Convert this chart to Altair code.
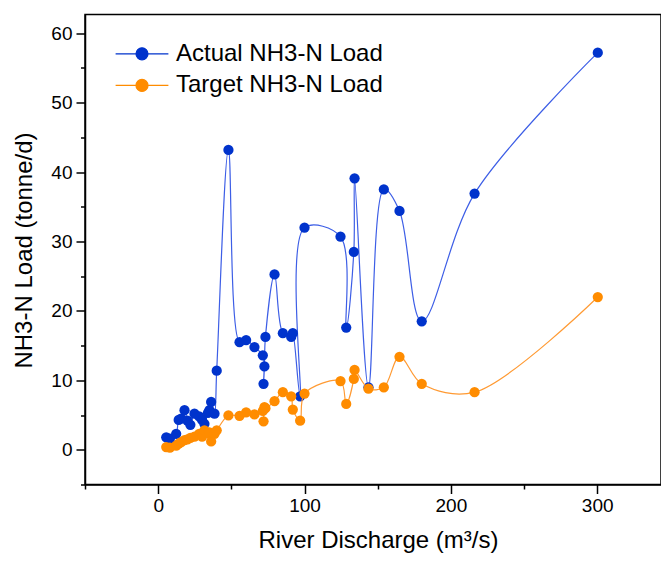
import altair as alt
import pandas as pd

# River discharge (m3/s), shared by both series
discharge = [5.5, 8, 12.3, 14, 15.7, 18, 20, 22, 24.8, 28, 30, 31.6, 34, 35, 36.2, 38.5, 40,
             48, 55.6, 60.1, 65.8, 71.5, 72, 72.6, 73.3, 79.5, 85.2, 90.9, 92, 97, 100,
             124.6, 128.5, 133.7, 134.2, 143.7, 154.2, 164.9, 180.1, 216.2, 300.4]
# Actual NH3-N load (tonne/d)
actual = [1.8, 1.6, 2.3, 4.3, 4.5, 5.7, 4.2, 3.6, 5.2, 4.8, 4.3, 3.75, 5.3, 5.7, 6.9, 5.2, 11.4,
          43.2, 15.5, 15.8, 14.8, 13.6, 9.5, 12.0, 16.25, 25.25, 16.8, 16.25, 16.8, 7.7, 32.0,
          30.7, 17.6, 28.5, 39.1, 9.0, 37.5, 34.4, 18.5, 36.9, 57.2]
# Target NH3-N load (tonne/d)
target = [0.4, 0.3, 0.6, 0.9, 1.1, 1.4, 1.5, 1.7, 1.9, 2.3, 1.9, 2.8, 2.4, 2.5, 1.2, 2.3, 2.8,
          4.95, 4.9, 5.4, 5.1, 5.6, 4.1, 6.15, 6.0, 7.0, 8.3, 7.7, 5.8, 4.2, 8.1,
          9.9, 6.6, 10.2, 11.5, 8.8, 9.0, 13.4, 9.5, 8.3, 22.0]

series_names = ["Actual NH3-N Load", "Target NH3-N Load"]
dot_colors = ["#0033cc", "#ff8c00"]
line_colors = ["#3d5ee6", "#ff9a33"]

x_ticks = [0, 100, 200, 300]
y_ticks = [0, 10, 20, 30, 40, 50, 60]
minor_x = [-50, 50, 150, 250]
minor_y = [-5, 5, 15, 25, 35, 45, 55]
x_domain = [-50, 343.6]
y_domain = [-5, 62.7]

rows = []
for q, a, t in zip(discharge, actual, target):
    rows.append({"q": q, "load": a, "series": series_names[0]})
    rows.append({"q": q, "load": t, "series": series_names[1]})
df = pd.DataFrame(rows)

FONT = "Liberation Sans"
xscale = alt.Scale(domain=x_domain, nice=False, zero=False)
yscale = alt.Scale(domain=y_domain, nice=False, zero=False)

xaxis = alt.Axis(values=x_ticks, tickSize=9, tickWidth=1.5, tickColor="black",
                 domainColor="black", domainWidth=1.5, labelFont=FONT, labelFontSize=19,
                 labelColor="black", labelPadding=3, grid=False,
                 title="River Discharge (m³/s)", titleFont=FONT, titleFontSize=24,
                 titleFontWeight="normal", titleColor="black", titleBaseline="alphabetic",
                 titleY=63, titleX=293, titleAlign="center")
yaxis = alt.Axis(values=y_ticks, tickSize=9, tickWidth=1.5, tickColor="black",
                 domainColor="black", domainWidth=1.5, labelFont=FONT, labelFontSize=19,
                 labelColor="black", labelPadding=4, grid=False,
                 title="NH3-N Load (tonne/d)", titleFont=FONT, titleFontSize=24,
                 titleFontWeight="normal", titleColor="black", titleBaseline="alphabetic",
                 titleAngle=-90, titleX=-54, titleY=235.5, titleAlign="center")

base = alt.Chart(df)

def line_layer(i):
    return base.transform_filter(alt.datum.series == series_names[i]).mark_line(
        interpolate="catmull-rom", strokeWidth=1.2, color=line_colors[i]
    ).encode(x=alt.X("q:Q", scale=xscale, axis=xaxis),
             y=alt.Y("load:Q", scale=yscale, axis=yaxis),
             order=alt.Order("q:Q"))

legend = alt.Legend(
    title=None, orient="none", legendX=45, legendY=27.3, padding=0,
    symbolType="M-4.4,0L4.4,0M-1,0A1,1 0 1,0 1,0A1,1 0 1,0 -1,0Z",
    symbolSize=144, symbolStrokeWidth=1.2,
    labelFont=FONT, labelFontSize=24, labelColor="black", labelOffset=22, labelLimit=400,
    rowPadding=7.6)

def point_layer(i):
    cscale = alt.Scale(domain=series_names, range=dot_colors)
    return base.transform_filter(alt.datum.series == series_names[i]).mark_point(
        size=105, opacity=1, filled=True, strokeWidth=0.01
    ).encode(x=alt.X("q:Q", scale=xscale, axis=xaxis),
             y=alt.Y("load:Q", scale=yscale, axis=yaxis),
             fill=alt.Fill("series:N", scale=cscale, legend=legend),
             stroke=alt.Stroke("series:N", scale=cscale, legend=legend))

main = alt.layer(line_layer(0), point_layer(0), line_layer(1), point_layer(1))

minor = base.mark_circle(opacity=0).encode(
    x=alt.X("q:Q", scale=alt.Scale(domain=x_domain, nice=False, zero=False),
            axis=alt.Axis(orient="bottom", values=minor_x, tickSize=4.5, tickWidth=1.5,
                          tickColor="black", labels=False, domain=False, grid=False, title=None)),
    y=alt.Y("load:Q", scale=alt.Scale(domain=y_domain, nice=False, zero=False),
            axis=alt.Axis(orient="left", values=minor_y, tickSize=4.5, tickWidth=1.5,
                          tickColor="black", labels=False, domain=False, grid=False, title=None)),
)

chart = alt.layer(main, minor).resolve_scale(x="independent", y="independent").properties(
    width=576, height=470,
    autosize=alt.AutoSizeParams(type="none"),
    padding={"left": 77, "top": 6.5, "right": 0, "bottom": 68.5},
).configure_view(stroke="black", strokeWidth=1.5)

chart.save("out.html", embed_options={"renderer": "svg", "actions": False})
